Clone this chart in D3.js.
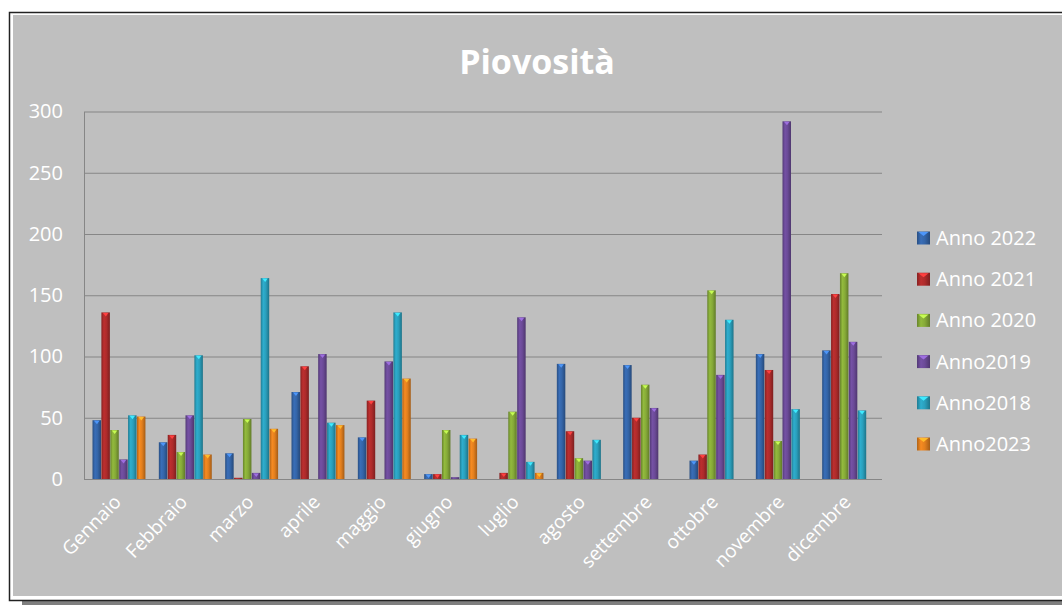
<!DOCTYPE html>
<html>
<head>
<meta charset="utf-8">
<script src="https://cdn.jsdelivr.net/npm/d3@7"></script>
<style>
  html, body { margin: 0; padding: 0; background: #fff; }
  svg { display: block; }
  text { font-family: "Open Sans", "Liberation Sans", sans-serif; fill: #fff; }
</style>
</head>
<body>
<div id="chart"></div>
<script>
// mesi e serie (mm di pioggia)
const months = ['Gennaio', 'Febbraio', 'marzo', 'aprile', 'maggio', 'giugno',
  'luglio', 'agosto', 'settembre', 'ottobre', 'novembre', 'dicembre'];
const seriesNames = ['Anno 2022', 'Anno 2021', 'Anno 2020', 'Anno2019', 'Anno2018', 'Anno2023'];

const anno2022 = [48, 30, 21, 71, 34, 4, null, 94, 93, 15, 102, 105];
const anno2021 = [136, 36, 1, 92, 64, 4, 5, 39, 50, 20, 89, 151];
const anno2020 = [40, 22, 49, null, null, 40, 55, 17, 77, 154, 31, 168];
const anno2019 = [16, 52, 5, 102, 96, 1.5, 132, 15, 58, 85, 292, 112];
const anno2018 = [52, 101, 164, 46, 136, 36, 14, 32, null, 130, 57, 56];
const anno2023 = [51, 20, 41, 44, 82, 33, 5, null, null, null, null, null];

const yTicks = [0, 50, 100, 150, 200, 250, 300];
const colors = ['#3465a8', '#ad2b2b', '#86aa38', '#6b4a97', '#2a9fbc', '#e27f1e'];

const allSeries = [anno2022, anno2021, anno2020, anno2019, anno2018, anno2023];

const W = 1062, H = 605;
const plot = { left: 86, right: 882, top: 111.5, bottom: 479 };

const svg = d3.select('#chart').append('svg')
  .attr('width', W)
  .attr('height', H);

// gradienti "cilindro" per ogni serie
const defs = svg.append('defs');
colors.forEach((c, i) => {
  const g = defs.append('linearGradient')
    .attr('id', 'grad' + i)
    .attr('x1', '0%').attr('x2', '100%').attr('y1', '0%').attr('y2', '0%');
  const base = d3.color(c);
  g.append('stop').attr('offset', '0%').attr('stop-color', base.darker(0.7));
  g.append('stop').attr('offset', '30%').attr('stop-color', base.brighter(0.25));
  g.append('stop').attr('offset', '60%').attr('stop-color', base);
  g.append('stop').attr('offset', '100%').attr('stop-color', base.darker(0.9));
});

// cornice e sfondo
svg.append('rect').attr('x', 22).attr('y', 601).attr('width', W - 22).attr('height', 4).attr('fill', '#7f7f7f');
svg.append('rect').attr('x', 13).attr('y', 15).attr('width', W - 13).attr('height', 581).attr('fill', '#bfbfbf');
svg.append('path')
  .attr('d', `M${W},12.5H9.5V600.5H${W}`)
  .attr('fill', 'none')
  .attr('stroke', '#222')
  .attr('stroke-width', 1.5);

// titolo
svg.append('text')
  .attr('x', 537)
  .attr('y', 74)
  .attr('text-anchor', 'middle')
  .style('font-size', '34px')
  .style('font-weight', 'bold')
  .text('Piovosità');

// scale
const x0 = d3.scaleBand()
  .domain(months)
  .range([plot.left, plot.right])
  .paddingInner(0)
  .paddingOuter(0);

const x1 = d3.scaleBand()
  .domain(d3.range(seriesNames.length))
  .range([x0.bandwidth() * 0.098, x0.bandwidth() * 0.902])
  .padding(0);

const y = d3.scaleLinear()
  .domain([0, 300])
  .range([plot.bottom, plot.top]);

// asse y con griglia
const yAxis = svg.append('g')
  .attr('transform', `translate(${plot.left - 2}, 0)`)
  .call(d3.axisLeft(y)
    .tickValues(yTicks)
    .tickSizeInner(-(plot.right - plot.left + 2))
    .tickSizeOuter(0)
    .tickPadding(21));
yAxis.select('.domain').attr('stroke', '#868686');
yAxis.selectAll('.tick line').attr('stroke', '#868686').attr('stroke-width', 1.2);
yAxis.selectAll('.tick text')
  .attr('fill', '#fff')
  .style('font-size', '20px')
  .style('font-family', '"Open Sans", "Liberation Sans", sans-serif');

// barre
const groups = svg.append('g')
  .selectAll('g')
  .data(months)
  .join('g')
  .attr('transform', (d) => `translate(${x0(d)}, 0)`);

const bars = groups.selectAll('g.bar')
  .data((m, mi) => allSeries.map((s, si) => ({ si: si, v: s[mi] })).filter((d) => d.v !== null))
  .join('g')
  .attr('class', 'bar');

bars.append('rect')
  .attr('x', (d) => x1(d.si))
  .attr('y', (d) => y(d.v))
  .attr('width', x1.bandwidth() - 0.4)
  .attr('height', (d) => y(0) - y(d.v))
  .attr('fill', (d) => `url(#grad${d.si})`);

// piccolo "cappello" chiaro in cima a ogni barra
bars.filter((d) => y(0) - y(d.v) > 3)
  .append('path')
  .attr('d', (d) => {
    const bx = x1(d.si), bw = x1.bandwidth(), ty = y(d.v);
    return `M${bx + 1.5},${ty + 0.5}L${bx + bw - 1.9},${ty + 0.5}L${bx + bw / 2},${ty + 4}Z`;
  })
  .attr('fill', (d) => d3.color(colors[d.si]).brighter(1.1));

// etichette asse x
svg.append('g')
  .selectAll('text')
  .data(months)
  .join('text')
  .attr('transform', (d) => `translate(${x0(d) + x0.bandwidth() / 2 + 3}, 503) rotate(-46)`)
  .attr('text-anchor', 'end')
  .style('font-size', '19px')
  .text((d) => d);

// legenda
const legend = svg.append('g')
  .selectAll('g')
  .data(seriesNames)
  .join('g')
  .attr('transform', (d, i) => `translate(917, ${238 + i * 41.2})`);

legend.append('rect')
  .attr('x', 0)
  .attr('y', -6.5)
  .attr('width', 13)
  .attr('height', 13)
  .attr('fill', (d, i) => `url(#grad${i})`);

legend.append('path')
  .attr('d', 'M1.5,-6L11.5,-6L6.5,-2Z')
  .attr('fill', (d, i) => d3.color(colors[i]).brighter(1.1));

legend.append('text')
  .attr('x', 19)
  .attr('y', 0)
  .attr('dy', '0.35em')
  .style('font-size', '20px')
  .text((d) => d);
</script>
</body>
</html>
